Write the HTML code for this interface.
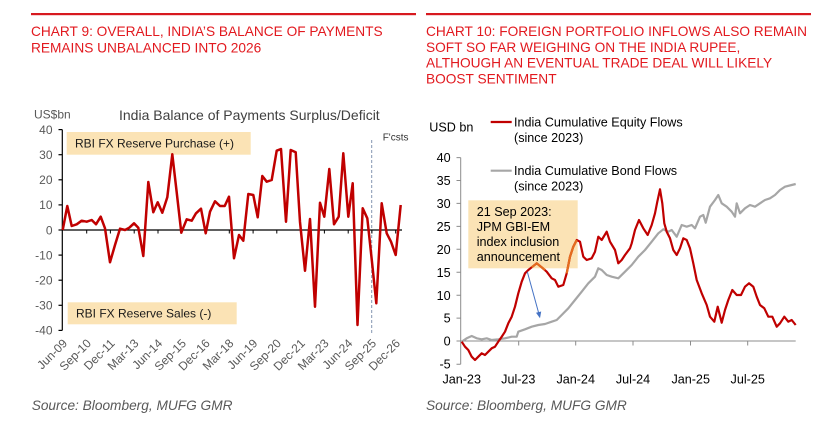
<!DOCTYPE html>
<html><head><meta charset="utf-8"><style>
html,body{margin:0;padding:0;background:#fff;width:840px;height:427px;overflow:hidden}
svg{display:block}
text{font-family:"Liberation Sans",Arial,sans-serif}
</style></head><body>
<svg width="840" height="427" viewBox="0 0 840 427" xmlns="http://www.w3.org/2000/svg">
<rect width="840" height="427" fill="#fff"/>
<!-- top rules -->
<rect x="31" y="13" width="385" height="2.2" fill="#d7191f"/>
<rect x="426" y="13" width="385" height="2.2" fill="#d7191f"/>
<!-- titles -->
<g font-size="13.7" fill="#e2191f">
<text x="31" y="36">CHART 9: OVERALL, INDIA’S BALANCE OF PAYMENTS</text>
<text x="31" y="52.3">REMAINS UNBALANCED INTO 2026</text>
<text x="426" y="36">CHART 10: FOREIGN PORTFOLIO INFLOWS ALSO REMAIN</text>
<text x="426" y="52">SOFT SO FAR WEIGHING ON THE INDIA RUPEE,</text>
<text x="426" y="67.7">ALTHOUGH AN EVENTUAL TRADE DEAL WILL LIKELY</text>
<text x="426" y="83.3">BOOST SENTIMENT</text>
</g>

<!-- LEFT CHART -->
<text x="34" y="118.5" font-size="12" fill="#595959">US$bn</text>
<text x="119" y="120" font-size="14" fill="#404040">India Balance of Payments Surplus/Deficit</text>
<rect x="66.7" y="132" width="184" height="22.7" fill="#fbe3b5"/>
<text x="75" y="147.6" font-size="12" fill="#1a1a1a">RBI FX Reserve Purchase (+)</text>
<rect x="67.7" y="302.3" width="169" height="22" fill="#fbe3b5"/>
<text x="76" y="317.6" font-size="12" fill="#1a1a1a">RBI FX Reserve Sales (-)</text>
<text x="382.7" y="140.7" font-size="10" fill="#333">F'csts</text>
<line x1="371.7" y1="140" x2="371.7" y2="333" stroke="#8496b0" stroke-width="1" stroke-dasharray="3,2"/>
<!-- y axis -->
<g stroke="#000" stroke-width="1.2">
<line x1="62.3" y1="129.6" x2="62.3" y2="330.4"/>
<line x1="58.5" y1="129.6" x2="62.3" y2="129.6"/>
<line x1="58.5" y1="154.7" x2="62.3" y2="154.7"/>
<line x1="58.5" y1="179.8" x2="62.3" y2="179.8"/>
<line x1="58.5" y1="204.9" x2="62.3" y2="204.9"/>
<line x1="58.5" y1="230" x2="62.3" y2="230"/>
<line x1="58.5" y1="255.1" x2="62.3" y2="255.1"/>
<line x1="58.5" y1="280.2" x2="62.3" y2="280.2"/>
<line x1="58.5" y1="305.3" x2="62.3" y2="305.3"/>
<line x1="58.5" y1="330.4" x2="62.3" y2="330.4"/>
<line x1="62.3" y1="230" x2="402" y2="230"/>
</g>
<g stroke="#000" stroke-width="1">
<path d="M86.7 230v3.5M110.4 230v3.5M134.2 230v3.5M158 230v3.5M181.8 230v3.5M205.5 230v3.5M229.3 230v3.5M253.1 230v3.5M276.8 230v3.5M300.6 230v3.5M324.4 230v3.5M348.2 230v3.5M371.9 230v3.5M395.7 230v3.5"/>
</g>
<g font-size="12" fill="#595959" text-anchor="end">
<text x="52.5" y="133.9">40</text>
<text x="52.5" y="159">30</text>
<text x="52.5" y="184.1">20</text>
<text x="52.5" y="209.2">10</text>
<text x="52.5" y="234.3">0</text>
<text x="52.5" y="259.4">-10</text>
<text x="52.5" y="284.5">-20</text>
<text x="52.5" y="309.6">-30</text>
<text x="52.5" y="334.7">-40</text>
</g>
<g font-size="12" fill="#595959" text-anchor="end">
<text transform="translate(68,344) rotate(-45)">Jun-09</text>
<text transform="translate(91.8,344) rotate(-45)">Sep-10</text>
<text transform="translate(115.5,344) rotate(-45)">Dec-11</text>
<text transform="translate(139.3,344) rotate(-45)">Mar-13</text>
<text transform="translate(163.1,344) rotate(-45)">Jun-14</text>
<text transform="translate(186.8,344) rotate(-45)">Sep-15</text>
<text transform="translate(210.6,344) rotate(-45)">Dec-16</text>
<text transform="translate(234.4,344) rotate(-45)">Mar-18</text>
<text transform="translate(258.2,344) rotate(-45)">Jun-19</text>
<text transform="translate(281.9,344) rotate(-45)">Sep-20</text>
<text transform="translate(305.7,344) rotate(-45)">Dec-21</text>
<text transform="translate(329.5,344) rotate(-45)">Mar-23</text>
<text transform="translate(353.2,344) rotate(-45)">Jun-24</text>
<text transform="translate(377,344) rotate(-45)">Sep-25</text>
<text transform="translate(400.8,344) rotate(-45)">Dec-26</text>
</g>
<polyline fill="none" stroke="#c00000" stroke-width="2.5" stroke-linejoin="round" points="62.7,230 67.3,206 71.7,226 76.7,224.3 81.7,220.7 86.7,221.7 91.7,220 96,224.3 100.7,216.7 105,228.3 110,262.3 115,245 120,228.7 125,230 129.3,227.7 134,223.3 138.3,227.7 143.3,256 148.3,182 153.3,212.3 157.7,202.3 162.3,212.7 167.3,197.3 172.3,154.3 176.7,192.3 181.3,232.7 186.7,219.3 191.7,220.7 196,213.3 201,208.7 205.7,233.3 210,211.7 215,201.3 220,206 224.7,206 229,196.7 234,258.3 239,235 243.3,240.7 248.3,194 253.3,195 257.7,217.3 262.3,176 266.7,181.7 271.7,180 276.7,150.7 281,149 286,221.7 290.7,150 295.7,152.3 300,222 305,270.7 310,219 315,306.7 320,202.7 324.3,216.7 329.3,169 334,224.3 338.7,216.7 343.3,153.3 348.3,216.7 352.7,183.3 357.5,325 362.7,208.3 367.3,218.3 372,262 376.3,303.3 381.7,203.3 386.7,233.3 391,241.7 395.7,255 400.7,205"/>
<text x="31.7" y="410" font-size="13.7" font-style="italic" fill="#595959">Source: Bloomberg, MUFG GMR</text>

<!-- RIGHT CHART -->
<text x="429.3" y="131.5" font-size="12.6" fill="#000">USD bn</text>
<line x1="490.7" y1="122" x2="511.7" y2="122" stroke="#c00000" stroke-width="2.2"/>
<text x="514" y="126.7" font-size="12.6" fill="#000">India Cumulative Equity Flows</text>
<text x="514" y="142" font-size="12.6" fill="#000">(since 2023)</text>
<line x1="490.7" y1="170.7" x2="511.7" y2="170.7" stroke="#a6a6a6" stroke-width="2.2"/>
<text x="514" y="175" font-size="12.6" fill="#000">India Cumulative Bond Flows</text>
<text x="514" y="190.3" font-size="12.6" fill="#000">(since 2023)</text>
<rect x="468.3" y="200.3" width="109.4" height="68" fill="#fbe3b5"/>
<g font-size="12.6" fill="#000">
<text x="476.7" y="216">21 Sep 2023:</text>
<text x="476.7" y="231">JPM GBI-EM</text>
<text x="476.7" y="246">index inclusion</text>
<text x="476.7" y="261">announcement</text>
</g>
<!-- axes -->
<g stroke="#8c8c8c" stroke-width="1">
<line x1="460.7" y1="157.6" x2="460.7" y2="364.3"/>
<path d="M456.5 157.6h4.2M456.5 180.5h4.2M456.5 203.4h4.2M456.5 226.4h4.2M456.5 249.3h4.2M456.5 272.2h4.2M456.5 295.2h4.2M456.5 318.1h4.2M456.5 341h4.2M456.5 364.3h4.2"/>
<line x1="460.7" y1="341" x2="795.7" y2="341"/>
<path d="M518.7 341v4.5M575.7 341v4.5M633 341v4.5M690.5 341v4.5M747.7 341v4.5"/>
</g>
<g font-size="12.6" fill="#000" text-anchor="end">
<text x="450.7" y="161.8">40</text>
<text x="450.7" y="184.9">35</text>
<text x="450.7" y="207.8">30</text>
<text x="450.7" y="230.9">25</text>
<text x="450.7" y="253.8">20</text>
<text x="450.7" y="276.9">15</text>
<text x="450.7" y="299.8">10</text>
<text x="450.7" y="322.7">5</text>
<text x="450.7" y="345.5">0</text>
<text x="450.7" y="368.7">-5</text>
</g>
<g font-size="12.6" fill="#000" text-anchor="middle">
<text x="461.7" y="383.5">Jan-23</text>
<text x="518.3" y="383.5">Jul-23</text>
<text x="575.7" y="383.5">Jan-24</text>
<text x="633" y="383.5">Jul-24</text>
<text x="690.7" y="383.5">Jan-25</text>
<text x="747.7" y="383.5">Jul-25</text>
</g>
<!-- bond line -->
<polyline fill="none" stroke="#a6a6a6" stroke-width="2.2" stroke-linejoin="round" points="461.7,341.7 466.7,338.3 471.7,336 476.7,338.3 481.7,339.3 486.7,338.3 491.7,340 498.3,339.3 505,338.3 511.7,336.7 516.7,336.7 518.3,331.7 525,329.3 531.7,326.7 538.3,325 545,324 551.7,321.7 556.7,320 561.7,315 568.3,308.3 575,300 581.7,291.7 588.3,283.3 595,276.7 598.3,268.3 601.7,270 606.7,275 611.7,276.7 618.3,278.3 625,271.7 631.7,265 638.3,256.7 645,250 651.7,241.7 658.3,233.3 663.3,229.3 668.3,231.7 671.7,230 676.7,236.7 681.7,225 686.7,226.7 691.7,225 695,228.3 700,216.7 703.3,215 705.7,222.7 710,206.7 715,200 718.3,195 721.7,203.3 726.7,206.7 731.7,211.7 735,216.7 736.7,203.3 740,213.3 745,208.3 750,205 755,206.7 760,203.3 765,200 770,198.3 775,195 780,190 785,186.7 791.7,185 795.7,184"/>
<!-- equity line -->
<polyline fill="none" stroke="#c00000" stroke-width="2.2" stroke-linejoin="round" points="461.7,341.7 465,346.7 468.3,350 471.7,356.7 475,360 478.3,356.7 481.7,353.3 485,355 488.3,351.7 491.7,348.3 495,346.7 498.3,341.7 501.7,336.7 505,331.7 508.3,323.3 511.7,316.7 515,306.7 518.3,293.3 521.7,281.7 525,273.3 528.3,270 531.7,267.3 536.7,263.3 541.7,267.3 546.7,271.7 551.7,278.3 555,280 558.3,286.7 563.3,285 566.7,273.3 570,256.7 573.3,246.7 576.7,240 580,241.7 583.3,256.7 586.7,260 591.7,258.3 595,251.7 598.3,236.7 601.7,240 606.7,231.7 610,241.7 615,250 618.3,263.3 621.7,260 625,255 630,248.3 631.7,243.3 635,230 639,220 643.3,228.3 647.7,235 651.7,225 655,213.3 657.3,201.7 660,189.3 662.3,203.3 664.3,223.3 666.7,231.7 670,238.3 673.3,250 676.7,255 680,248.3 683.3,238.3 686.7,240 690,248.3 693.3,263.3 696.7,280 701.7,293.3 706.7,305 710,316.7 714.3,321.7 717.7,306.7 721.7,322.7 725,310 728.3,300 732.3,290 736.7,295 741,295 745,286.7 749,283.3 753.3,286.7 756.7,296.7 760,305 764.3,308.3 768.3,316.7 772.3,316.7 776.7,326.7 780,323.3 784.3,316.7 788.3,321.7 791.7,320 795.7,325"/>
<polyline fill="none" stroke="#e46c1e" stroke-width="2.2" stroke-linejoin="round" points="531.7,267.3 536.7,263.3 541.7,267.3 545,270"/>
<polyline fill="none" stroke="#e46c1e" stroke-width="2.2" stroke-linejoin="round" points="566.7,273.3 570,256.7 573.3,246.7 576.7,240"/>
<!-- arrow -->
<line x1="527.3" y1="271.7" x2="538.8" y2="313.5" stroke="#4472c4" stroke-width="1"/>
<polygon points="540,318.3 536,312.8 541.2,311.5" fill="#4472c4"/>
<text x="426" y="410" font-size="13.7" font-style="italic" fill="#595959">Source: Bloomberg, MUFG GMR</text>
</svg>
</body></html>
